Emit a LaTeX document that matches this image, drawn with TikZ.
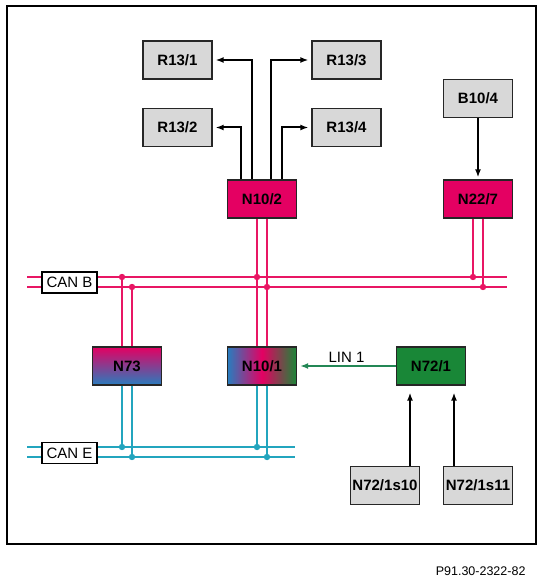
\documentclass[tikz,border=0pt]{standalone}
\usepackage{fontspec}
\setmainfont{Liberation Sans}
\usepackage{tikz}
\usetikzlibrary{positioning, arrows.meta, shadings}

\definecolor{canbpink}{RGB}{232,22,100}
\definecolor{canecyan}{RGB}{35,165,190}
\definecolor{lingreen}{RGB}{35,135,85}
\definecolor{ecupink}{RGB}{228,0,98}
\definecolor{ecublue}{RGB}{40,125,190}
\definecolor{ecugreen}{RGB}{25,135,55}
\definecolor{boxgray}{RGB}{216,216,216}

\begin{document}
\begin{tikzpicture}[
  x=1pt, y=-1pt,
  every node/.style={font=\fontsize{15}{17}\selectfont\bfseries},
  gbx/.style={draw=black!85, line width=1.3pt, fill=boxgray, minimum width=69pt, minimum height=38pt, inner sep=0pt},
  ecu/.style={draw=black!85, line width=1.3pt, minimum width=69pt, minimum height=38pt, inner sep=0pt},
  busb/.style={canbpink, line width=2.2pt},
  buse/.style={canecyan, line width=2.2pt},
  ar/.style={-{Latex[length=8pt,width=6pt]}, line width=2pt},
  linar/.style={-{Latex[length=8pt,width=6pt]}, line width=2pt, color=lingreen},
  busname/.style={draw=black, line width=1.4pt, fill=white, font=\fontsize{15}{17}\selectfont, minimum width=55pt, minimum height=21pt, inner sep=0pt},
]
\useasboundingbox (0,0) rectangle (544,585);
\draw[line width=1.8pt] (7,6) rectangle (536,544);

% Top - outputs of N10/2
\node[gbx] (r131) at (177.5,60) {R13/1};
\node[gbx] (r133) at (346.5,60) {R13/3};
\node[gbx] (r132) at (177.5,127.5) {R13/2};
\node[gbx] (r134) at (346.5,127.5) {R13/4};
\node[gbx] (b104) at (478,98.5) {B10/4};

% Control units
\node[ecu, fill=ecupink] (n102) at (262,199) {N10/2};
\node[ecu, fill=ecupink] (n227) at (478,199) {N22/7};
\node[ecu, top color=ecupink, bottom color=ecublue] (n73) at (127,366) {N73};
\node[ecu, left color=ecublue, right color=ecugreen, middle color=ecupink] (n101) at (262,366) {N10/1};
\node[ecu, fill=ecugreen] (n721) at (431,366) {N72/1};

% Bottom - switches
\node[gbx] (s10) at (385,485.5) {N72/1s10};
\node[gbx] (s11) at (478,485.5) {N72/1s11};

% Bus lines
\coordinate (cb1w) at (27,277);
\coordinate (cb1e) at (507,277);
\coordinate (cb2w) at (27,287);
\coordinate (cb2e) at (507,287);
\coordinate (ce1w) at (27,447);
\coordinate (ce1e) at (295,447);
\coordinate (ce2w) at (27,457);
\coordinate (ce2e) at (295,457);
\draw[busb] (cb1w) -- (cb1e);
\draw[busb] (cb2w) -- (cb2e);
\draw[buse] (ce1w) -- (ce1e);
\draw[buse] (ce2w) -- (ce2e);
\node[busname] (canb) at (69.5,282.5) {CAN B};
\node[busname] (cane) at (69.5,453) {CAN E};

% Taps
\coordinate (n73a) at ([xshift=-5pt]n73.north);
\coordinate (n73b) at ([xshift=5pt]n73.north);
\coordinate (n73c) at ([xshift=-5pt]n73.south);
\coordinate (n73d) at ([xshift=5pt]n73.south);
\coordinate (n102a) at ([xshift=-5pt]n102.south);
\coordinate (n102b) at ([xshift=5pt]n102.south);
\coordinate (n101a) at ([xshift=-5pt]n101.north);
\coordinate (n101b) at ([xshift=5pt]n101.north);
\coordinate (n101c) at ([xshift=-5pt]n101.south);
\coordinate (n101d) at ([xshift=5pt]n101.south);
\coordinate (n227a) at ([xshift=-5pt]n227.south);
\coordinate (n227b) at ([xshift=5pt]n227.south);

\draw[busb] (n73a |- cb1w) -- (n73a);
\draw[busb] (n73b |- cb2w) -- (n73b);
\draw[busb] (n102a) -- (n101a);
\draw[busb] (n102b) -- (n101b);
\draw[busb] (n227a) -- (n227a |- cb1w);
\draw[busb] (n227b) -- (n227b |- cb2w);
\draw[buse] (n73c) -- (n73c |- ce1w);
\draw[buse] (n73d) -- (n73d |- ce2w);
\draw[buse] (n101c) -- (n101c |- ce1w);
\draw[buse] (n101d) -- (n101d |- ce2w);

\fill[canbpink] (n73a |- cb1w) circle (3.2pt) (n73b |- cb2w) circle (3.2pt)
  (n102a |- cb1w) circle (3.2pt) (n102b |- cb2w) circle (3.2pt)
  (n227a |- cb1w) circle (3.2pt) (n227b |- cb2w) circle (3.2pt);
\fill[canecyan] (n73c |- ce1w) circle (3.2pt) (n73d |- ce2w) circle (3.2pt)
  (n101c |- ce1w) circle (3.2pt) (n101d |- ce2w) circle (3.2pt);

% Arrows
\draw[ar, shorten >=3pt] ([xshift=-10pt]n102.north) |- (r131.east);
\draw[ar, shorten >=3pt] ([xshift=-21pt]n102.north) |- (r132.east);
\draw[ar, shorten >=3pt] ([xshift=9pt]n102.north) |- (r133.west);
\draw[ar, shorten >=3pt] ([xshift=20pt]n102.north) |- (r134.west);
\draw[ar, shorten >=2pt] (b104) -- (n227);
\draw[ar, shorten >=7pt] ([xshift=25pt]s10.north) -- ([xshift=-21pt]n721.south);
\draw[ar, shorten >=7pt] ([xshift=-24pt]s11.north) -- ([xshift=23pt]n721.south);
\draw[linar, shorten >=3pt] (n721) -- node[above, text=black, font=\fontsize{15}{17}\selectfont, inner sep=2.5pt] (lin) {LIN 1} (n101);

\node[anchor=east, font=\fontsize{12.5}{15}\selectfont] (fig) at (529,571) {P91.30-2322-82};
\end{tikzpicture}
\end{document}
